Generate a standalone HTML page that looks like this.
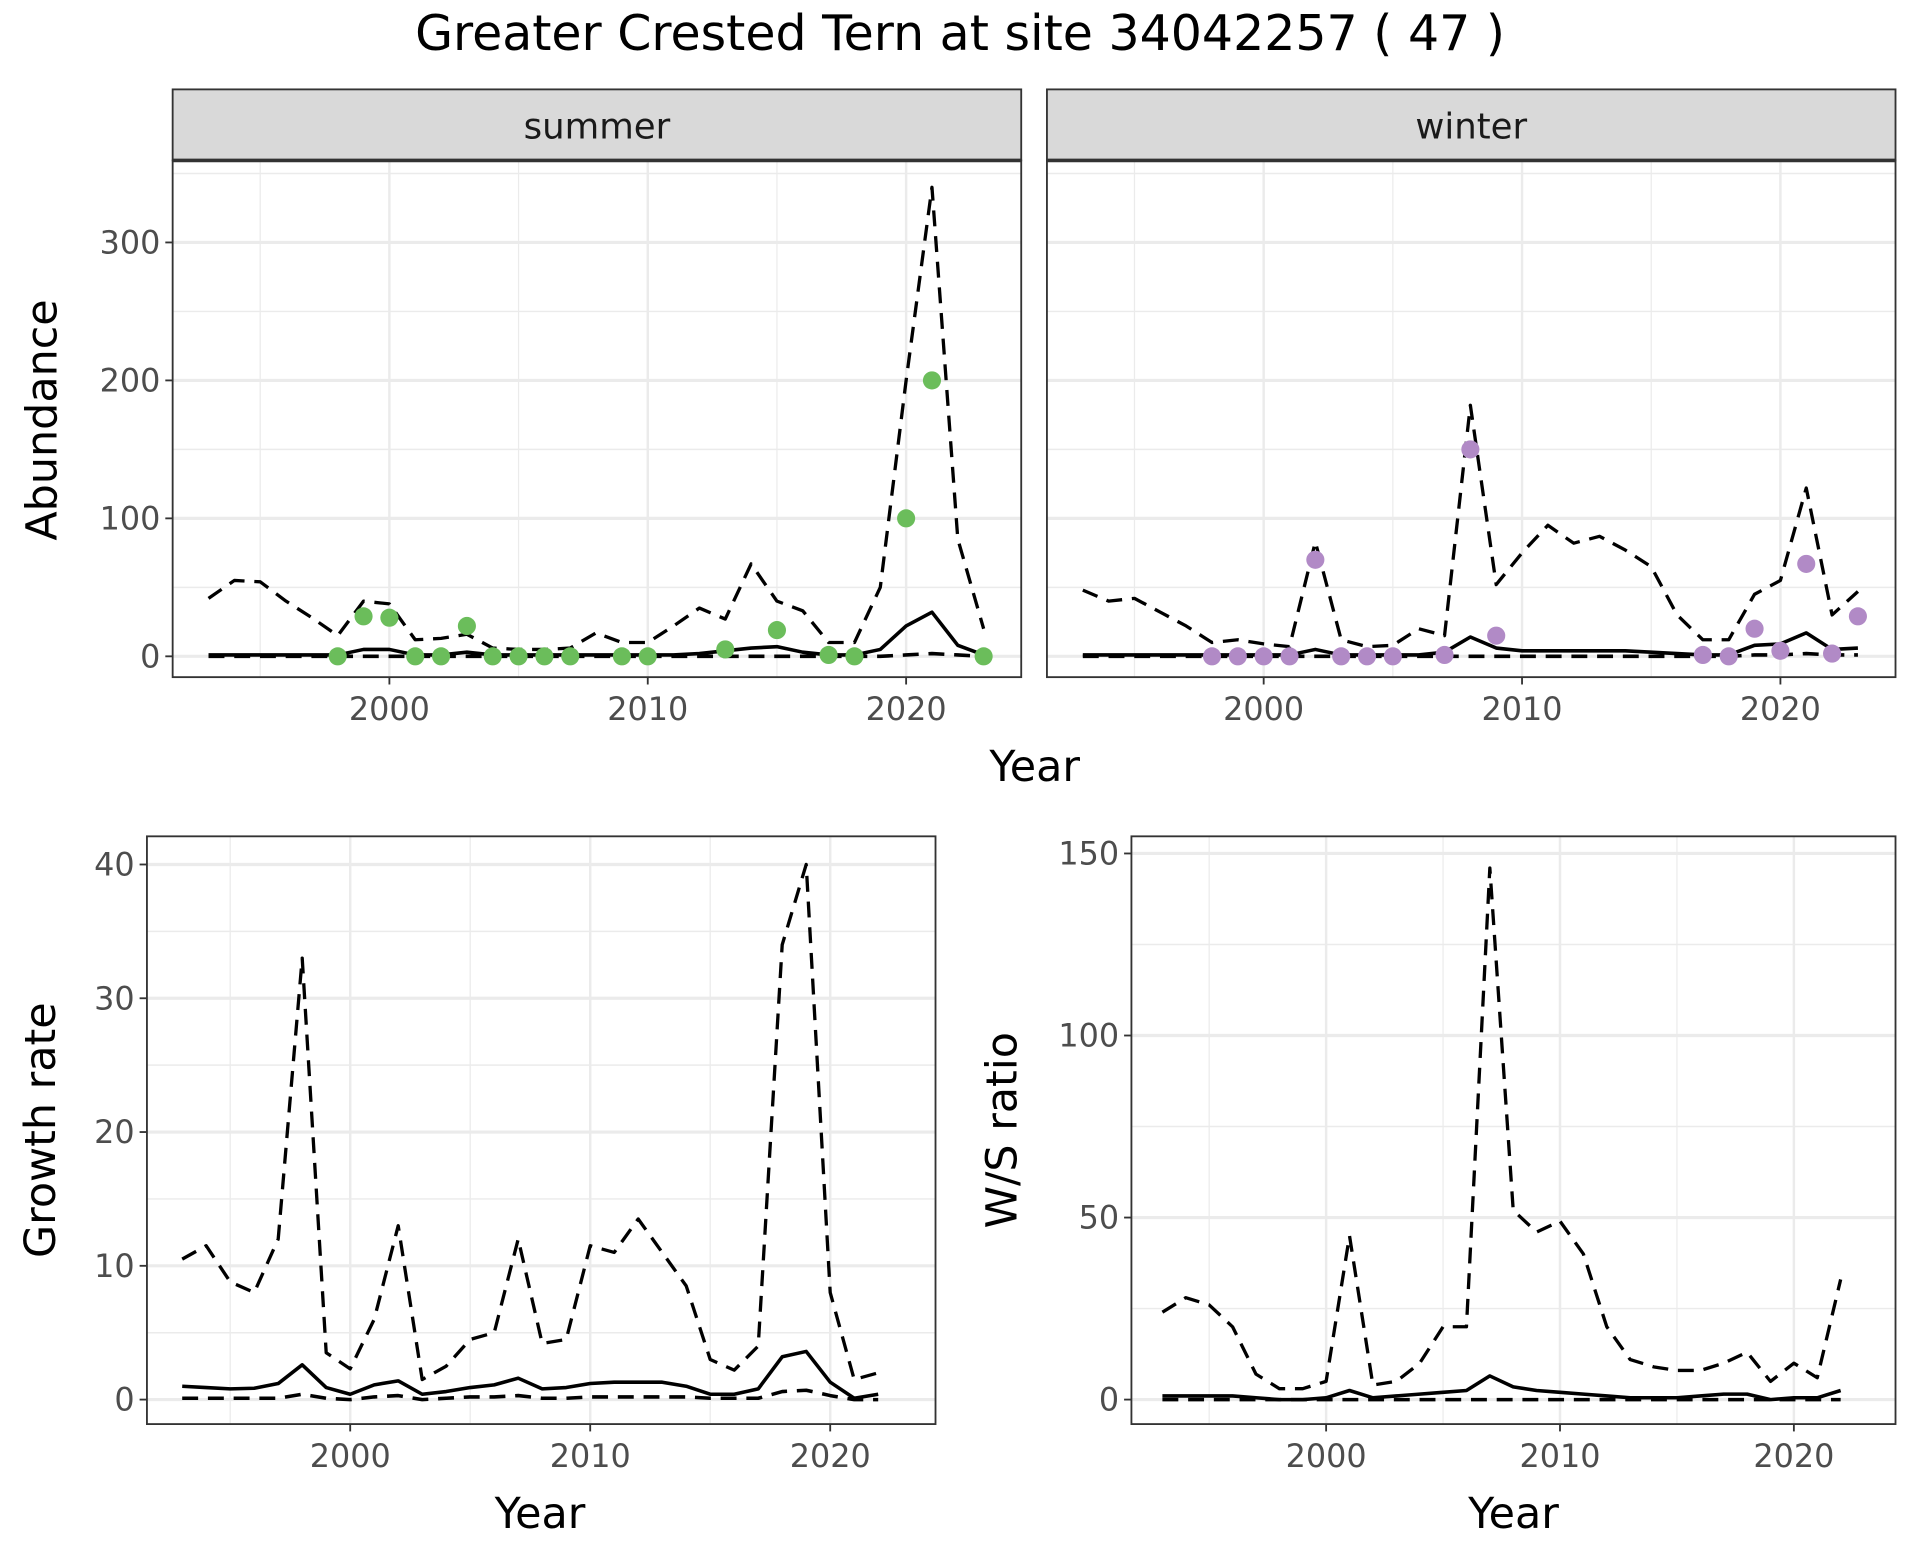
<!DOCTYPE html>
<html><head><meta charset="utf-8">
<style>
html,body{margin:0;padding:0;background:#fff;}
svg{display:block;font-family:"DejaVu Sans","Liberation Sans",sans-serif;}
</style></head>
<body>
<svg id="chart" width="1920" height="1560" viewBox="0 0 1568 1274" xmlns="http://www.w3.org/2000/svg">
<rect width="1568" height="1274" fill="#fff"/>
<text x="784" y="41" text-anchor="middle" font-size="40" fill="#000">Greater Crested Tern at site 34042257 ( 47 )</text>
<g id="g"></g>
</svg>
<script>
const yearsA = [];
for (let y = 1993; y <= 2023; y++) yearsA.push(y);
const yearsB = [];
for (let y = 1993; y <= 2022; y++) yearsB.push(y);

const summerUpper = [42,55,54,40,28,15,40,38,12,13,16,6,5,5,6,17,10,10,22,35,27,67,40,33,10,10,50,200,340,85,20];
const summerMean  = [1,1,1,1,1,1,5,5,1,1,3,1,1,1,1,1,1,1,1,2,4,6,7,3,1,1,5,22,32,8,1];
const summerLower = [0,0,0,0,0,0,0,0,0,0,0,0,0,0,0,0,0,0,0,0,0,0,0,0,0,0,0,1,2,1,0];
const summerPtYears = [1998,1999,2000,2001,2002,2003,2004,2005,2006,2007,2009,2010,2013,2015,2017,2018,2020,2021,2023];
const summerPtVals  = [0,29,28,0,0,22,0,0,0,0,0,0,5,19,1,0,100,200,0];

const winterUpper = [48,40,42,32,22,10,12,9,7,83,12,7,8,20,15,182,52,75,95,82,87,77,65,30,12,12,45,55,122,30,47];
const winterMean  = [1,1,1,1,1,1,1,1,1,5,1,1,1,1,3,14,6,4,4,4,4,4,3,2,1,1,8,9,17,5,6];
const winterLower = [0,0,0,0,0,0,0,0,0,0,0,0,0,0,0,0,0,0,0,0,0,0,0,0,0,0,1,1,2,1,1];
const winterPtYears = [1998,1999,2000,2001,2002,2003,2004,2005,2007,2008,2009,2017,2018,2019,2020,2021,2022,2023];
const winterPtVals  = [0,0,0,0,70,0,0,0,1,150,15,1,0,20,4,67,2,29];

const growthUpper = [10.5,11.5,8.8,8,12,33,3.5,2.3,6,13,1.5,2.5,4.5,5,12,4.2,4.5,11.5,11,13.5,11,8.5,3,2.2,4,34,40,8,1.5,2];
const growthMean  = [1,0.9,0.8,0.85,1.2,2.6,0.9,0.4,1.1,1.4,0.4,0.6,0.9,1.1,1.6,0.8,0.9,1.2,1.3,1.3,1.3,1.0,0.4,0.4,0.8,3.2,3.6,1.3,0.1,0.4];
const growthLower = [0.1,0.1,0.1,0.1,0.1,0.4,0.1,0,0.2,0.3,0,0.1,0.2,0.2,0.3,0.1,0.1,0.2,0.2,0.2,0.2,0.2,0.1,0.1,0.1,0.6,0.7,0.3,0,0];

const wsUpper = [24,28,26,20,7,3,3,5,45,4,5,10,20,20,146,52,46,49,40,20,11,9,8,8,10,13,5,10,6,33];
const wsMean  = [1,1,1,1,0.5,0,0,0.5,2.5,0.5,1,1.5,2,2.5,6.5,3.5,2.5,2,1.5,1,0.5,0.5,0.5,1,1.5,1.5,0,0.5,0.5,2.5];
const wsLower = [0,0,0,0,0,0,0,0,0,0,0,0,0,0,0,0,0,0,0,0,0,0,0,0,0,0,0,0,0,0];

const xTicks = [2000, 2010, 2020];
const abTicks = [0,100,200,300];
const grTicks = [0,10,20,30,40];
const wsTicks = [0,50,100,150];

const NS = "http://www.w3.org/2000/svg";
const G = document.getElementById('g');
function el(tag, attrs, parent) {
  const e = document.createElementNS(NS, tag);
  for (const k in attrs) e.setAttribute(k, attrs[k]);
  (parent || G).appendChild(e);
  return e;
}
function lin(d0, d1, r0, r1) { return v => r0 + (v - d0) / (d1 - d0) * (r1 - r0); }

function panel(o) {
  const g = el('g', {});
  
  
  const {x0, x1, y0, y1, sx, sy} = o;
  o.minorX.forEach(v => { el('line', {x1: sx(v), x2: sx(v), y1: y0, y2: y1, stroke: '#ebebeb', 'stroke-width': 1}, g); });
  o.minorY.forEach(v => { el('line', {x1: x0, x2: x1, y1: sy(v), y2: sy(v), stroke: '#ebebeb', 'stroke-width': 1.2}, g); });
  xTicks.forEach(v => { el('line', {x1: sx(v), x2: sx(v), y1: y0, y2: y1, stroke: '#ebebeb', 'stroke-width': 2}, g); });
  o.yTicks.forEach(v => { el('line', {x1: x0, x2: x1, y1: sy(v), y2: sy(v), stroke: '#ebebeb', 'stroke-width': 2.6}, g); });
  const path = (ys, vals, dash, w) => {
    const d = vals.map((v, i) => (i ? 'L' : 'M') + sx(ys[i]).toFixed(2) + ',' + sy(v).toFixed(2)).join(' ');
    return el('path', {d: d, fill: 'none', stroke: '#000', 'stroke-width': w, 'stroke-dasharray': dash || 'none', 'stroke-linejoin': 'round'}, g);
  };
  const pu = path(o.years, o.upper, '13,8', 2.7);
  
  
  const pl = path(o.years, o.lower, '13,8', 2.9);
  
  
  const pm = path(o.years, o.mean, null, 2.9);
  
  
  if (o.ptYears) {
    o.ptYears.forEach((yr, i) => {
      const c = el('circle', {cx: sx(yr), cy: sy(o.ptVals[i]), r: 7.4, fill: o.ptColor}, g);
      
      
    });
  }
  el('rect', {x: x0, y: y0, width: x1 - x0, height: y1 - y0, fill: 'none', stroke: '#333', 'stroke-width': 1.5}, g);
  if (o.showX) xTicks.forEach(v => {
    el('line', {x1: sx(v), x2: sx(v), y1: y1, y2: y1 + 6, stroke: '#333', 'stroke-width': 1.5}, g);
    const t = el('text', {x: sx(v), y: y1 + 35, 'text-anchor': 'middle', 'font-size': 26, fill: '#4d4d4d'}, g);
    t.textContent = v;
    
    
  });
  if (o.showY) o.yTicks.forEach(v => {
    el('line', {x1: x0 - 6, x2: x0, y1: sy(v), y2: sy(v), stroke: '#333', 'stroke-width': 1.5}, g);
    const t = el('text', {x: x0 - 10, y: sy(v) + 9, 'text-anchor': 'end', 'font-size': 26, fill: '#4d4d4d'}, g);
    t.textContent = v;
    
    
  });
  if (o.strip) {
    el('rect', {x: x0, y: 73, width: x1 - x0, height: y0 - 73, fill: '#d9d9d9', stroke: '#333', 'stroke-width': 1.5}, g);
    el('line', {x1: x0, x2: x1, y1: y0, y2: y0, stroke: '#333', 'stroke-width': 3}, g);
    const t = el('text', {x: (x0 + x1) / 2, y: 113, 'text-anchor': 'middle', 'font-size': 29, fill: '#1a1a1a'}, g);
    t.textContent = o.strip;
    
    
  }
}

const abY = lin(0, 300, 536, 198);
const sxS = lin(2000, 2020, 318, 740);
const sxW = lin(2000, 2020, 1032, 1454);
panel({name: 'summer-panel', x0: 141, x1: 834, y0: 131, y1: 553, sx: sxS, sy: abY, minorX: [1995, 2005, 2015], minorY: [50,150,250,350], yTicks: abTicks,
  years: yearsA, upper: summerUpper, mean: summerMean, lower: summerLower, ptYears: summerPtYears, ptVals: summerPtVals, ptColor: '#6bbd5b', showX: true, showY: true, strip: 'summer'});
panel({name: 'winter-panel', x0: 855, x1: 1548, y0: 131, y1: 553, sx: sxW, sy: abY, minorX: [1995, 2005, 2015], minorY: [50,150,250,350], yTicks: abTicks,
  years: yearsA, upper: winterUpper, mean: winterMean, lower: winterLower, ptYears: winterPtYears, ptVals: winterPtVals, ptColor: '#b18ac6', showX: true, showY: false, strip: 'winter'});

panel({name: 'growth-rate-panel', x0: 120, x1: 764, y0: 683, y1: 1163, sx: lin(2000, 2020, 286, 678), sy: lin(0, 40, 1143, 706), minorX: [1995, 2005, 2015], minorY: [5,15,25,35], yTicks: grTicks,
  years: yearsB, upper: growthUpper, mean: growthMean, lower: growthLower, showX: true, showY: true});
panel({name: 'ws-ratio-panel', x0: 924, x1: 1548, y0: 683, y1: 1163, sx: lin(2000, 2020, 1083, 1465), sy: lin(0, 150, 1143, 697), minorX: [1995, 2005, 2015], minorY: [25,75,125], yTicks: wsTicks,
  years: yearsB, upper: wsUpper, mean: wsMean, lower: wsLower, showX: true, showY: true});

function label(txt, x, y, rot, name) {
  const t = el('text', {x: x, y: y, 'text-anchor': 'middle', 'font-size': 35, fill: '#000', transform: rot ? `rotate(-90 ${x} ${y})` : ''});
  t.textContent = txt;
  
  
}
label('Abundance', 46, 343, true, 'abundance-axis-title');
label('Year', 845, 638, false, 'top-x-axis-title');
label('Growth rate', 45, 923, true, 'growth-rate-axis-title');
label('Year', 441, 1248, false, 'growth-x-axis-title');
label('W/S ratio', 830, 923, true, 'ws-ratio-axis-title');
label('Year', 1236, 1248, false, 'ws-x-axis-title');
</script>
</body></html>
